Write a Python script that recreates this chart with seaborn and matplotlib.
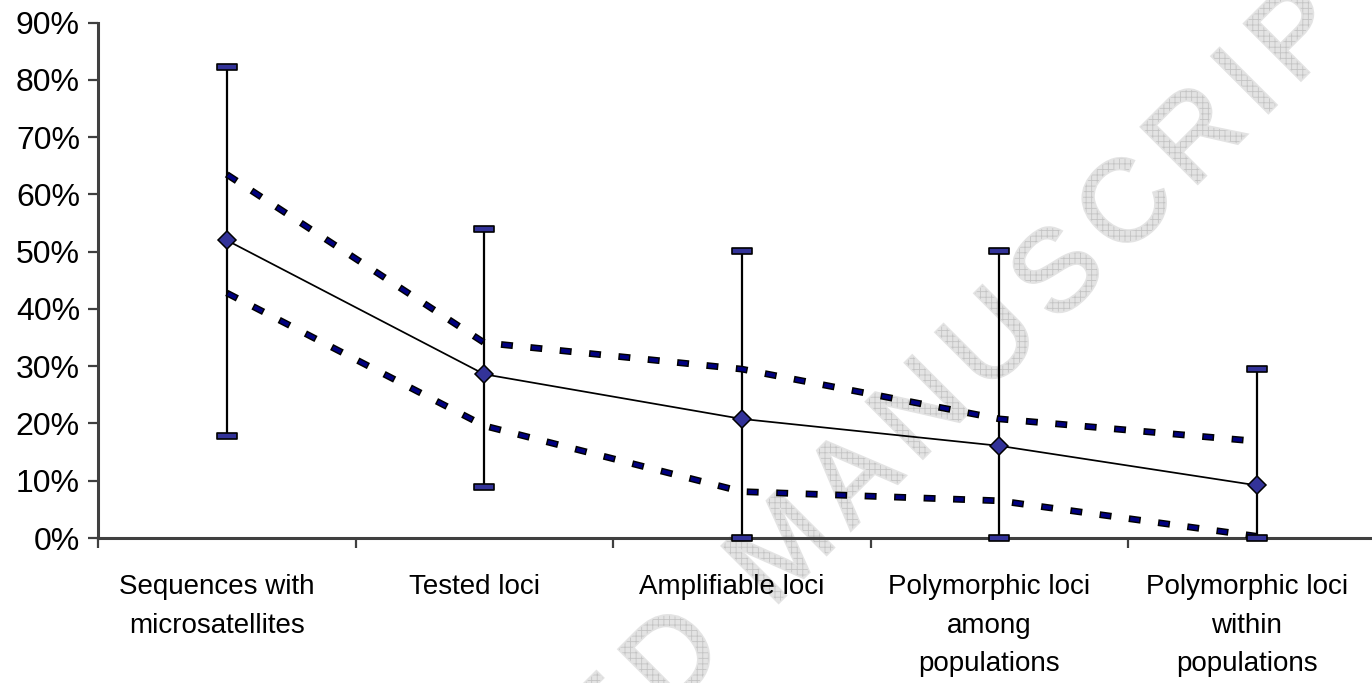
import numpy as np
import pandas as pd
import matplotlib
matplotlib.use("Agg")
import matplotlib.pyplot as plt
import seaborn as sns
import matplotlib.ticker as mticker
from matplotlib.path import Path
from matplotlib.patches import PathPatch
from matplotlib.textpath import TextPath
from matplotlib.font_manager import FontProperties, findfont, get_font
from matplotlib.transforms import Affine2D, ScaledTranslation

# ---------------- data ----------------
categories = [
    "Sequences with\nmicrosatellites",
    "Tested loci",
    "Amplifiable loci",
    "Polymorphic loci\namong\npopulations",
    "Polymorphic loci\nwithin\npopulations",
]
mean_vals = [0.520, 0.286, 0.208, 0.161, 0.092]
upper_vals = [0.635, 0.341, 0.295, 0.208, 0.169]
lower_vals = [0.428, 0.196, 0.081, 0.065, 0.003]
max_vals = [0.822, 0.539, 0.501, 0.501, 0.295]
min_vals = [0.178, 0.0885, 0.0, 0.0, 0.0]
y_ticks = [0.0, 0.1, 0.2, 0.3, 0.4, 0.5, 0.6, 0.7, 0.8, 0.9]
watermark = "ACCEPTED MANUSCRIPT"

# ---------------- style ----------------
sns.set_theme(style="white")
plt.rcParams["font.family"] = ["Liberation Sans", "DejaVu Sans"]
plt.rcParams["lines.scale_dashes"] = False
plt.rcParams["hatch.linewidth"] = 0.6

W, H = 1372, 683
fig = plt.figure(figsize=(W / 100, H / 100), dpi=100, facecolor="white")
ax = fig.add_axes([98 / W, (H - 538) / H, (1385.5 - 98) / W, (538 - 22.7) / H])
ax.set_facecolor("none")

x = np.arange(len(categories))
df = pd.DataFrame({"x": x, "mean": mean_vals, "upper": upper_vals,
                   "lower": lower_vals, "max": max_vals, "min": min_vals})

# ---------------- watermark ----------------
fp = FontProperties(family="Liberation Sans")
ft = get_font(findfont(fp))
ft.set_size(100, 72)
em = 116.0
track = 15.0
parts = []
off = 0.0
for i, ch in enumerate(watermark):
    g = ft.load_char(ord(ch))
    adv = g.linearHoriAdvance / 65536.0 / 100.0
    if ch != " ":
        parts.append(TextPath((off, 0), ch, size=em, prop=fp))
    off += adv * em + track
wm_path = Path.make_compound_path(*parts)
wm_tr = Affine2D().rotate_deg(45).translate(207, H - 1174)
wm_base = PathPatch(wm_path, transform=wm_tr, facecolor="#e3e3e3",
                    edgecolor="#e3e3e3", linewidth=2.2, zorder=-2)
wm_hatch = PathPatch(wm_path, transform=wm_tr, facecolor="none",
                     edgecolor="#c4c4c4", linewidth=0, hatch="+++", zorder=-1)
fig.add_artist(wm_base)
fig.add_artist(wm_hatch)

# ---------------- error bars (min-max) ----------------
ax.vlines(df["x"], df["min"], df["max"], color="black", linewidth=1.6, zorder=2)

# ---------------- dashed bounds ----------------
for col in ("upper", "lower"):
    ax.plot(df["x"], df[col], color="black", linewidth=4.9,
            linestyle=(0, (8.6, 12.64)), dash_capstyle="butt",
            zorder=3, clip_on=False)
    ax.plot(df["x"], df[col], color="#000080", linewidth=2.8,
            linestyle=(20.16, (6.44, 14.8)), dash_capstyle="butt",
            zorder=3.1, clip_on=False)

# ---------------- mean line ----------------
sns.lineplot(data=df, x="x", y="mean", ax=ax, color="black", linewidth=1.25,
             marker="D", markersize=8.8, markerfacecolor="#333399",
             markeredgecolor="black", markeredgewidth=1.1,
             errorbar=None, zorder=5)

# ---------------- caps ----------------
cap_marker = Path([(-1, -0.36), (1, -0.36), (1, 0.36), (-1, 0.36), (-1, -0.36)],
                  [Path.MOVETO, Path.LINETO, Path.LINETO, Path.LINETO, Path.CLOSEPOLY])
for col in ("max", "min"):
    ax.plot(df["x"], df[col], linestyle="none", marker=cap_marker,
            markersize=14, markerfacecolor="#333399",
            markeredgecolor="black", markeredgewidth=1.2,
            zorder=6, clip_on=False)

# ---------------- axes ----------------
ax.set_xlim(-0.5, len(categories) - 0.5)
ax.set_ylim(0, 0.9)
ax.set_xlabel("")
ax.set_ylabel("")

ax.set_xticks(np.arange(-0.5, len(categories), 1.0))
ax.set_xticklabels([])
ax.set_xticks(x, minor=True)
ax.set_xticklabels(categories, minor=True)
ax.tick_params(axis="x", which="major", length=7.2, width=1.6,
               direction="out", color="#404040", bottom=True)
ax.tick_params(axis="x", which="minor", length=0, pad=26, labelsize=20,
               labelcolor="black", bottom=True)
shift = ScaledTranslation(-10 / 100, 0, fig.dpi_scale_trans)
for lab in ax.get_xticklabels(minor=True):
    lab.set_ha("center")
    lab.set_multialignment("center")
    lab.set_linespacing(1.62)
    lab.set_transform(lab.get_transform() + shift)

ax.set_yticks(y_ticks)
ax.yaxis.set_major_formatter(mticker.PercentFormatter(xmax=1.0, decimals=0))
ax.tick_params(axis="y", which="major", length=7.2, width=1.6, direction="out",
               color="#404040", labelcolor="black", pad=5.8, labelsize=23,
               left=True)

sns.despine(ax=ax)
for s in ("left", "bottom"):
    ax.spines[s].set_color("#404040")
    ax.spines[s].set_linewidth(2.2)
ax.grid(False)

fig.savefig("out.png", dpi=100)
